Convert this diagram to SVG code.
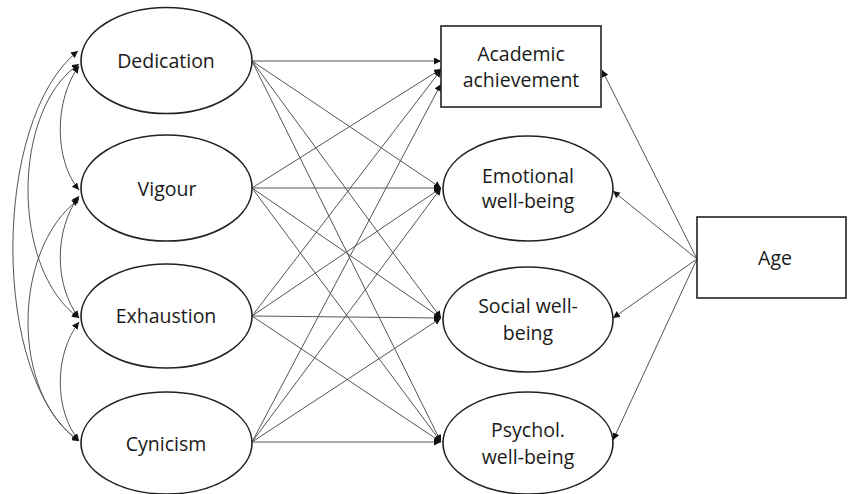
<svg xmlns="http://www.w3.org/2000/svg" width="848" height="494" viewBox="0 0 848 494">
<style>
.node{fill:#fff;stroke:#222;stroke-width:1.6}
.lbl{font-family:"Open Sans","Noto Sans","Liberation Sans",sans-serif;font-size:19.5px;fill:#1a1a1a;text-anchor:middle}
.c{fill:none;stroke:#555;stroke-width:1;marker-end:url(#ah)}
.cv{fill:none;stroke:#555;stroke-width:1;marker-start:url(#ah);marker-end:url(#ah)}
</style>
<defs>
<marker id="ah" markerUnits="userSpaceOnUse" markerWidth="8" markerHeight="8" refX="7" refY="3.5" orient="auto-start-reverse">
<path d="M0,0 L7,3.5 L0,7 Z" fill="#111"/>
</marker>
</defs>
<rect width="848" height="494" fill="#fff"/>
<g id="connectors">
<!-- covariances -->
<path class="cv" d="M79,66 C54,100 54,160 79,190"/>
<path class="cv" d="M79,64 C11,110 11,270 79,318"/>
<path class="cv" d="M78,51 C-9,120 -9,380 79,441"/>
<path class="cv" d="M79,196 C54,230 54,285 79,318"/>
<path class="cv" d="M79,199 C11,250 11,395 79,441"/>
<path class="cv" d="M79,322 C54,355 54,410 79,441"/>
<!-- paths to outcomes -->
<path class="c" d="M252,61 L441,61"/>
<path class="c" d="M252,61 L441,188"/>
<path class="c" d="M252,61 L441,318"/>
<path class="c" d="M252,61 L441,442"/>
<path class="c" d="M252,188 L441,69"/>
<path class="c" d="M252,188 L441,188"/>
<path class="c" d="M252,188 L441,318"/>
<path class="c" d="M252,188 L441,442"/>
<path class="c" d="M252,316 L441,70"/>
<path class="c" d="M252,316 L441,188"/>
<path class="c" d="M252,316 L441,318"/>
<path class="c" d="M252,316 L441,442"/>
<path class="c" d="M252,442 L441,84"/>
<path class="c" d="M252,442 L441,188"/>
<path class="c" d="M252,442 L441,318"/>
<path class="c" d="M252,442 L441,442"/>
<!-- age -->
<path class="c" d="M697,259 L602,70"/>
<path class="c" d="M697,259 L613,191"/>
<path class="c" d="M697,259 L613,318"/>
<path class="c" d="M697,259 L613,440"/>
</g>
<g id="dedication"><ellipse class="node" cx="166.5" cy="60.5" rx="85.5" ry="53"/><text class="lbl" x="166" y="68">Dedication</text></g>
<g id="vigour"><ellipse class="node" cx="166.5" cy="188" rx="85.5" ry="53"/><text class="lbl" x="167" y="196">Vigour</text></g>
<g id="exhaustion"><ellipse class="node" cx="166.5" cy="316" rx="85.5" ry="52"/><text class="lbl" x="166" y="323">Exhaustion</text></g>
<g id="cynicism"><ellipse class="node" cx="166.5" cy="443" rx="85.5" ry="51"/><text class="lbl" x="166" y="451">Cynicism</text></g>
<g id="academic"><rect class="node" x="441" y="26" width="160" height="81"/><text class="lbl" x="521" y="61">Academic</text><text class="lbl" x="521" y="87">achievement</text></g>
<g id="emotional"><ellipse class="node" cx="528" cy="188.5" rx="85" ry="52.5"/><text class="lbl" x="528" y="183">Emotional</text><text class="lbl" x="528" y="208">well-being</text></g>
<g id="social"><ellipse class="node" cx="528" cy="319.5" rx="85" ry="52.5"/><text class="lbl" x="528" y="313">Social well-</text><text class="lbl" x="528" y="340">being</text></g>
<g id="psychol"><ellipse class="node" cx="528" cy="443" rx="85" ry="51"/><text class="lbl" x="528" y="437">Psychol.</text><text class="lbl" x="528" y="464">well-being</text></g>
<g id="age"><rect class="node" x="697" y="217" width="149" height="81"/><text class="lbl" x="775" y="265">Age</text></g>
</svg>
